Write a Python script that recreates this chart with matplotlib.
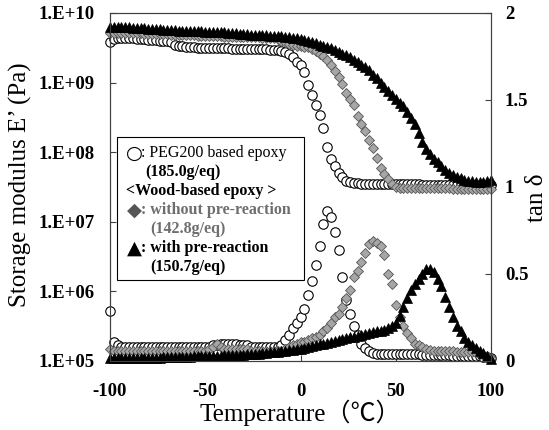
import matplotlib.pyplot as plt
from matplotlib.patches import Rectangle
from matplotlib.ticker import FixedLocator, NullLocator

plt.rcParams['font.family'] = ['Liberation Serif', 'DejaVu Sans']

# measurement temperatures (degC), 2 degC steps
temp = list(range(-100, 101, 2))

# PEG200 based epoxy
peg_modulus = [
    3.8e9, 4.2e9, 4.3e9, 4.3e9, 4.3e9, 4.3e9, 4.3e9, 4.2e9, 4.2e9, 4.2e9,
    4.1e9, 4.1e9, 4.1e9, 4.0e9, 4.0e9, 3.9e9, 3.8e9, 3.5e9, 3.4e9, 3.3e9,
    3.2e9, 3.2e9, 3.2e9, 3.15e9, 3.15e9, 3.15e9, 3.1e9, 3.1e9, 3.1e9, 3.1e9,
    3.1e9, 3.1e9, 3.0e9, 3.0e9, 3.0e9, 3.0e9, 3.0e9, 3.0e9, 3.0e9, 3.0e9,
    3.0e9, 3.0e9, 2.95e9, 2.95e9, 2.9e9, 2.8e9, 2.75e9, 2.6e9, 2.3e9, 2.0e9,
    1.8e9, 1.4e9, 9.3e8, 6.6e8, 4.8e8, 3.4e8, 2.2e8, 1.2e8, 8.1e7, 6.3e7,
    5.1e7, 4.4e7, 3.9e7, 3.7e7, 3.6e7, 3.6e7, 3.5e7, 3.5e7, 3.5e7, 3.5e7,
    3.5e7, 3.5e7, 3.5e7, 3.5e7, 3.5e7, 3.5e7, 3.5e7, 3.5e7, 3.5e7, 3.5e7,
    3.5e7, 3.5e7, 3.4e7, 3.4e7, 3.4e7, 3.4e7, 3.4e7, 3.4e7, 3.4e7, 3.4e7,
    3.4e7, 3.4e7, 3.4e7, 3.4e7, 3.4e7, 3.4e7, 3.4e7, 3.4e7, 3.4e7, 3.4e7,
    3.4e7,
]
peg_tan = [
    0.29, 0.11, 0.09, 0.08, 0.08, 0.08, 0.08, 0.08, 0.08, 0.08,
    0.08, 0.08, 0.08, 0.08, 0.08, 0.08, 0.08, 0.08, 0.08, 0.08,
    0.08, 0.08, 0.08, 0.08, 0.08, 0.08, 0.08, 0.09, 0.09, 0.10,
    0.10, 0.10, 0.10, 0.10, 0.09, 0.09, 0.09, 0.08, 0.08, 0.08,
    0.08, 0.08, 0.08, 0.08, 0.08, 0.09, 0.12, 0.15, 0.19, 0.22,
    0.25, 0.30, 0.38, 0.46, 0.55, 0.66, 0.79, 0.86, 0.83, 0.74,
    0.64, 0.48, 0.35, 0.27, 0.20, 0.15, 0.10, 0.075, 0.055, 0.045,
    0.04, 0.04, 0.04, 0.04, 0.04, 0.04, 0.04, 0.04, 0.04, 0.04,
    0.04, 0.04, 0.035, 0.035, 0.035, 0.035, 0.035, 0.035, 0.035, 0.035,
    0.03, 0.03, 0.03, 0.03, 0.03, 0.03, 0.03, 0.03, 0.025, 0.025,
    0.02,
]

# wood-based epoxy, without pre-reaction
wood_modulus = [
    5.2e9, 5.2e9, 5.1e9, 5.1e9, 5.1e9, 5.1e9, 5.1e9, 5.1e9, 5.1e9, 5.0e9,
    5.0e9, 5.0e9, 5.0e9, 5.0e9, 5.0e9, 5.0e9, 4.9e9, 4.9e9, 4.9e9, 4.9e9,
    4.8e9, 4.8e9, 4.8e9, 4.7e9, 4.7e9, 4.7e9, 4.6e9, 4.6e9, 4.6e9, 4.6e9,
    4.5e9, 4.5e9, 4.5e9, 4.5e9, 4.5e9, 4.5e9, 4.5e9, 4.5e9, 4.5e9, 4.5e9,
    4.4e9, 4.4e9, 4.3e9, 4.3e9, 4.2e9, 4.0e9, 3.8e9, 3.6e9, 3.5e9, 3.4e9,
    3.3e9, 3.2e9, 3.2e9, 3.0e9, 2.8e9, 2.6e9, 2.4e9, 2.1e9, 1.8e9, 1.45e9,
    1.2e9, 9.5e8, 7.2e8, 5.8e8, 4.7e8, 3.3e8, 2.5e8, 2.0e8, 1.5e8, 1.15e8,
    8.3e7, 6.0e7, 4.8e7, 4.1e7, 3.5e7, 3.2e7, 3.1e7, 3.1e7, 3.1e7, 3.1e7,
    3.1e7, 3.1e7, 3.1e7, 3.1e7, 3.1e7, 3.1e7, 3.1e7, 3.1e7, 3.1e7, 3.1e7,
    3.0e7, 3.0e7, 3.0e7, 3.0e7, 3.0e7, 3.0e7, 3.0e7, 3.0e7, 3.0e7, 3.0e7,
    3.0e7,
]
wood_tan = [
    0.07, 0.06, 0.06, 0.06, 0.06, 0.06, 0.06, 0.06, 0.06, 0.06,
    0.06, 0.06, 0.06, 0.06, 0.06, 0.06, 0.06, 0.06, 0.06, 0.06,
    0.06, 0.06, 0.06, 0.06, 0.06, 0.06, 0.07, 0.08, 0.10, 0.08,
    0.07, 0.07, 0.07, 0.07, 0.07, 0.07, 0.07, 0.06, 0.06, 0.06,
    0.06, 0.06, 0.06, 0.06, 0.06, 0.06, 0.07, 0.08, 0.09, 0.10,
    0.11, 0.11, 0.12, 0.13, 0.14, 0.15, 0.17, 0.19, 0.22, 0.25,
    0.27, 0.31, 0.36, 0.41, 0.48, 0.52, 0.57, 0.62, 0.67, 0.69,
    0.68, 0.66, 0.61, 0.50, 0.44, 0.32, 0.25, 0.20, 0.16, 0.13,
    0.10, 0.09, 0.08, 0.07, 0.065, 0.06, 0.06, 0.06, 0.06, 0.055,
    0.055, 0.05, 0.05, 0.05, 0.05, 0.05, 0.045, 0.04, 0.035, 0.03,
    0.02,
]

# wood-based epoxy, with pre-reaction
pre_modulus = [
    6.3e9, 6.3e9, 6.3e9, 6.2e9, 6.2e9, 6.2e9, 6.0e9, 6.0e9, 6.0e9, 6.0e9,
    5.9e9, 5.9e9, 5.9e9, 5.9e9, 5.75e9, 5.75e9, 5.75e9, 5.75e9, 5.6e9, 5.6e9,
    5.6e9, 5.6e9, 5.5e9, 5.5e9, 5.5e9, 5.4e9, 5.4e9, 5.4e9, 5.25e9, 5.25e9,
    5.25e9, 5.1e9, 5.1e9, 5.1e9, 5.0e9, 5.0e9, 5.0e9, 4.9e9, 4.9e9, 4.9e9,
    4.8e9, 4.8e9, 4.7e9, 4.7e9, 4.6e9, 4.6e9, 4.5e9, 4.5e9, 4.4e9, 4.3e9,
    4.2e9, 4.1e9, 4.0e9, 3.8e9, 3.7e9, 3.5e9, 3.4e9, 3.2e9, 3.1e9, 2.95e9,
    2.75e9, 2.6e9, 2.45e9, 2.3e9, 2.1e9, 2.0e9, 1.8e9, 1.65e9, 1.5e9, 1.3e9,
    1.15e9, 1.0e9, 8.7e8, 7.6e8, 6.6e8, 5.8e8, 5.1e8, 4.6e8, 3.8e8, 3.1e8,
    2.5e8, 1.9e8, 1.4e8, 1.1e8, 9.3e7, 8.1e7, 7.2e7, 6.3e7, 5.6e7, 5.1e7,
    4.7e7, 4.4e7, 4.2e7, 4.0e7, 3.9e7, 3.8e7, 3.7e7, 3.7e7, 3.7e7, 3.8e7,
    4.0e7,
]
pre_tan = [
    0.02, 0.02, 0.02, 0.02, 0.02, 0.02, 0.02, 0.02, 0.02, 0.02,
    0.02, 0.02, 0.02, 0.02, 0.022, 0.022, 0.022, 0.024, 0.024, 0.024,
    0.025, 0.025, 0.026, 0.026, 0.027, 0.028, 0.028, 0.029, 0.03, 0.03,
    0.032, 0.033, 0.034, 0.035, 0.036, 0.037, 0.039, 0.04, 0.042, 0.043,
    0.045, 0.047, 0.049, 0.051, 0.053, 0.055, 0.058, 0.061, 0.064, 0.067,
    0.07, 0.075, 0.08, 0.085, 0.09, 0.095, 0.10, 0.105, 0.11, 0.115,
    0.12, 0.125, 0.13, 0.135, 0.14, 0.145, 0.15, 0.155, 0.16, 0.165,
    0.17, 0.175, 0.18, 0.19, 0.20, 0.22, 0.26, 0.31, 0.36, 0.41,
    0.44, 0.47, 0.50, 0.53, 0.53, 0.51, 0.47, 0.43, 0.37, 0.31,
    0.25, 0.20, 0.17, 0.13, 0.11, 0.09, 0.075, 0.06, 0.045, 0.03,
    0.01,
]

x_ticks = [-100, -50, 0, 50, 100]
x_labels = ['-100', '-50', '0', '50', '100']
e_ticks = [1e5, 1e6, 1e7, 1e8, 1e9, 1e10]
e_labels = ['1.E+05', '1.E+06', '1.E+07', '1.E+08', '1.E+09', '1.E+10']
tan_ticks = [0, 0.5, 1, 1.5, 2]
tan_labels = ['0', '0.5', '1', '1.5', '2']

fig = plt.figure(figsize=(5.49, 4.30), dpi=100)
ax = fig.add_axes([0.2004, 0.1605, 0.6940, 0.8093])
ax2 = ax.twinx()

circle = dict(ls='none', marker='o', ms=6.8, mfc='white', mec='black', mew=0.8, clip_on=False)
diamond = dict(ls='none', marker='D', ms=5.3, mfc='#a6a6a6', mec='#555555', mew=0.6, clip_on=False)
tri = dict(ls='none', marker='^', ms=7.2, mfc='black', mec='black', mew=0.5, clip_on=False)

ax.plot(temp, peg_modulus, **circle)
ax.plot(temp, wood_modulus, **diamond)
ax.plot(temp, pre_modulus, **tri)

ax2.plot(temp, peg_tan, **circle)
ax2.plot(temp, wood_tan, **diamond)
ax2.plot(temp, pre_tan, **tri)

ax.set_xlim(-100, 100)
ax.set_yscale('log')
ax.set_ylim(1e5, 1e10)
ax2.set_ylim(0, 2)

ax.xaxis.set_major_locator(FixedLocator(x_ticks))
ax.set_xticklabels(x_labels, fontsize=13.5, fontweight='bold')
ax.yaxis.set_major_locator(FixedLocator(e_ticks))
ax.yaxis.set_minor_locator(NullLocator())
ax.set_yticklabels(e_labels, fontsize=13.5, fontweight='bold')
ax2.yaxis.set_major_locator(FixedLocator(tan_ticks))
ax2.set_yticklabels(tan_labels, fontsize=13.5, fontweight='bold')

ax.tick_params(axis='both', direction='in', length=4, width=0.8, color='#404040')
ax.tick_params(axis='x', pad=16)
ax.tick_params(axis='y', pad=11)
ax2.tick_params(axis='y', direction='in', length=4, width=0.8, color='#404040', pad=10)
for a in (ax, ax2):
    for s in a.spines.values():
        s.set_linewidth(0.8)
        s.set_color('#404040')

# axis titles
fig.text(20 / 549, 1 - 185 / 430, 'Storage modulus E’ (Pa)', fontsize=18,
         rotation=90, ha='center', va='center')
fig.text(537 / 549, 1 - 198 / 430, 'tan δ', fontsize=18,
         rotation=90, ha='center', va='center')
fig.text(300 / 549, 1 - 413 / 430, 'Temperature（℃）', fontsize=18,
         ha='center', va='center',
         family=['Liberation Serif', 'Noto Sans CJK JP'])

# hand-made legend box
box = Rectangle((117 / 549, 1 - 280 / 430), 187 / 549, 143 / 430,
                transform=fig.transFigure, facecolor='white',
                edgecolor='black', lw=0.8, zorder=10)
fig.add_artist(box)

# symbols of the legend rows
legend_symbols = [
    (134, 153, '○', 'black'),
    (134, 210, '◆', '#555555'),
    (134, 248, '▲', 'black'),
]
for px, py, sym, col in legend_symbols:
    fig.text(px / 549, 1 - py / 430, sym, fontsize=14, color=col,
             family='DejaVu Sans', ha='center', va='center', zorder=11)

legend_rows = [
    (141, 153, ': PEG200 based epoxy', 'normal', 'black'),
    (145, 172, '(185.0g/eq)', 'bold', 'black'),
    (126, 191, '<Wood-based epoxy >', 'bold', 'black'),
    (141, 210, ': without pre-reaction', 'bold', '#6e6e6e'),
    (150, 229, '(142.8g/eq)', 'bold', '#6e6e6e'),
    (141, 248, ': with pre-reaction', 'bold', 'black'),
    (150, 267, '(150.7g/eq)', 'bold', 'black'),
]
for px, py, txt, wt, col in legend_rows:
    fig.text(px / 549, 1 - py / 430, txt, fontsize=11.5, fontweight=wt,
             color=col, ha='left', va='center', zorder=11)

fig.savefig('out.png', dpi=100)
